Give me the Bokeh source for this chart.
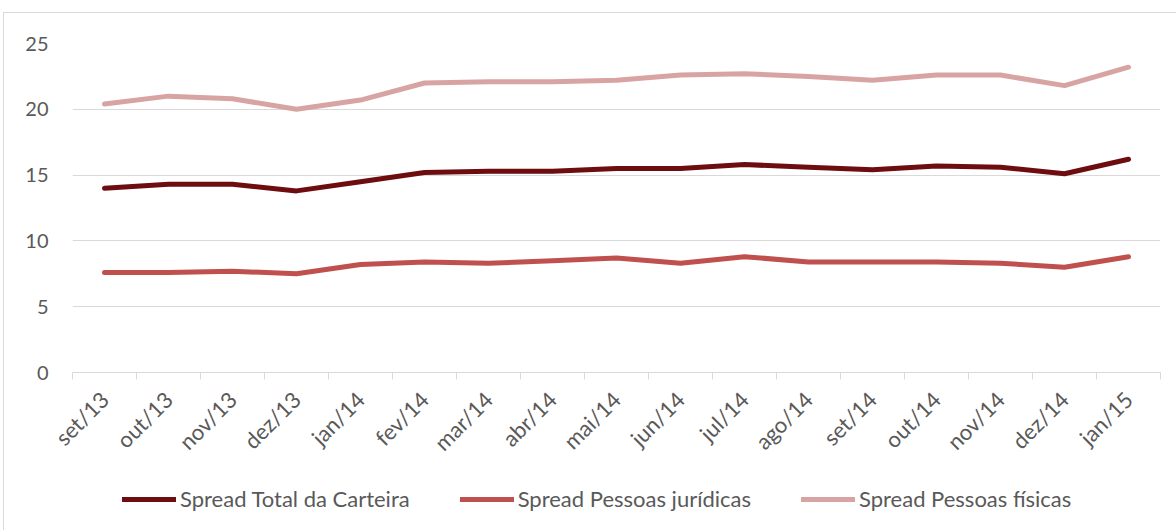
from bokeh.plotting import figure
from bokeh.layouts import column
from bokeh.models import Range1d, FixedTicker, Legend, LegendItem
from bokeh.embed import file_html
from bokeh.resources import INLINE

categories = ["set/13", "out/13", "nov/13", "dez/13", "jan/14", "fev/14", "mar/14",
              "abr/14", "mai/14", "jun/14", "jul/14", "ago/14", "set/14", "out/14",
              "nov/14", "dez/14", "jan/15"]
spread_total = [14.0, 14.3, 14.3, 13.8, 14.5, 15.2, 15.3, 15.3, 15.5, 15.5, 15.8, 15.6,
                15.4, 15.7, 15.6, 15.1, 16.2]
spread_juridicas = [7.6, 7.6, 7.7, 7.5, 8.2, 8.4, 8.3, 8.5, 8.7, 8.3, 8.8, 8.4,
                    8.4, 8.4, 8.3, 8.0, 8.8]
spread_fisicas = [20.4, 21.0, 20.8, 20.0, 20.7, 22.0, 22.1, 22.1, 22.2, 22.6, 22.7, 22.5,
                  22.2, 22.6, 22.6, 21.8, 23.2]
y_ticks = [0, 5, 10, 15, 20, 25]

series = [
    ("Spread Total da Carteira", spread_total, "#6E0D10"),
    ("Spread Pessoas jurídicas", spread_juridicas, "#C0504D"),
    ("Spread Pessoas físicas", spread_fisicas, "#D8A4A3"),
]

n = len(categories)
xs = [i + 0.5 for i in range(n)]

FONT = "Lato"
GRAY = "#595959"
GRID = "#D9D9D9"

p = figure(frame_width=1088, frame_height=329,
           x_range=Range1d(0, n), y_range=Range1d(0, 25),
           output_backend="svg", toolbar_location=None,
           min_border_left=68, min_border_top=30, min_border_right=16, min_border_bottom=90)

p.outline_line_color = None
p.xgrid.grid_line_color = None
p.ygrid.grid_line_color = GRID
p.ygrid.ticker = FixedTicker(ticks=y_ticks)

# y axis
p.yaxis.ticker = FixedTicker(ticks=y_ticks)
p.yaxis.axis_line_color = None
p.yaxis.major_tick_line_color = None
p.yaxis.minor_tick_line_color = None
p.yaxis.major_tick_out = 0
p.yaxis.major_tick_in = 0
p.yaxis.major_label_standoff = 24
p.yaxis.major_label_text_font = FONT
p.yaxis.major_label_text_font_size = "20px"
p.yaxis.major_label_text_color = GRAY

# x axis
p.xaxis.ticker = FixedTicker(ticks=xs, minor_ticks=list(range(n + 1)))
p.xaxis.major_label_overrides = {x: c for x, c in zip(xs, categories)}
p.xaxis.axis_line_color = GRID
p.xaxis.major_tick_line_color = None
p.xaxis.major_tick_out = 0
p.xaxis.major_tick_in = 0
p.xaxis.minor_tick_line_color = GRID
p.xaxis.minor_tick_out = 7
p.xaxis.minor_tick_in = 0
p.xaxis.major_label_orientation = 3.14159265 / 4
p.xaxis.major_label_standoff = 16
p.xaxis.major_label_text_font = FONT
p.xaxis.major_label_text_font_size = "22px"
p.xaxis.major_label_text_color = GRAY

# legend strip below the chart (same series, drawn outside its visible range)
p2 = figure(width=1172, height=68, x_range=Range1d(0, n), y_range=Range1d(100, 101),
            output_backend="svg", toolbar_location=None,
            min_border_left=0, min_border_right=0, min_border_top=0, min_border_bottom=0)
p2.axis.visible = False
p2.grid.visible = False
p2.outline_line_color = None

items = []
for name, vals, color in series:
    p.line(xs, vals, line_color=color, line_width=5, line_cap="round", line_join="round")
    r2 = p2.line(xs, vals, line_color=color, line_width=5, line_cap="round")
    items.append(LegendItem(label=name, renderers=[r2]))

legend = Legend(items=items, orientation="horizontal", location=(50, 24),
                glyph_width=54, glyph_height=20, label_standoff=4, spacing=50,
                label_text_font=FONT, label_text_font_size="22px", label_text_color=GRAY,
                border_line_color=None, background_fill_alpha=0, padding=0, margin=0)
p2.add_layout(legend, "center")

layout = column(p, p2, spacing=0)
layout.styles = {"margin-left": "3px", "margin-top": "12px",
                 "border-left": "1px solid #D9D9D9", "border-top": "1px solid #D9D9D9"}

open("out.html", "w").write(file_html(layout, INLINE))
